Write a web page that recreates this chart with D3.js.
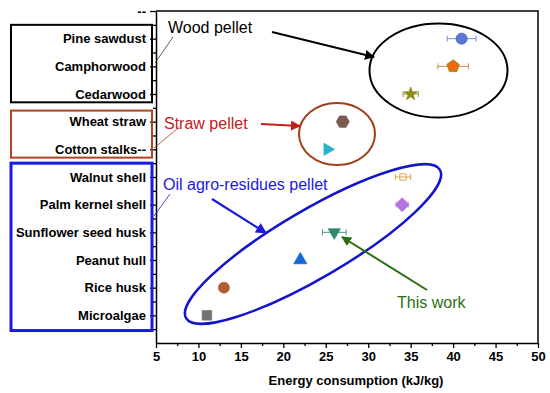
<!DOCTYPE html>
<html>
<head>
<meta charset="utf-8">
<script src="https://cdn.jsdelivr.net/npm/d3@7"></script>
<style>
  body { margin: 0; background: #fff; }
  svg { display: block; font-family: Arial, "Liberation Sans", sans-serif; }
</style>
</head>
<body>
<svg></svg>
<script>
// pellet types, top to bottom
var categories = ["Pine sawdust", "Camphorwood", "Cedarwood", "Wheat straw", "Cotton stalks--",
    "Walnut shell", "Palm kernel shell", "Sunflower seed husk", "Peanut hull", "Rice husk", "Microalgae"];
// energy consumption (kJ/kg) and error
var energy = [41, 40, 35, 27, 25.2, 34.1, 34, 26, 22, 13, 11];
var errors = [1.7, 1.8, 0.9, 0, 0, 0.9, 0.7, 1.4, 0, 0.5, 0];
var xTicks = [5, 10, 15, 20, 25, 30, 35, 40, 45, 50];

// marker styles
var markers = [
    {shape: "circle", fill: "#5b78d8", stroke: "#3a55b8", err: "#7b8fd8"},
    {shape: "pentagon", fill: "#f26a10", stroke: "#8a8a20", err: "#c0904a"},
    {shape: "star", fill: "#8c8c1c", stroke: "#8c8c1c", err: "#9c9c30"},
    {shape: "hexagon", fill: "#7a5a52", stroke: "#7a5a52", err: "#7a5a52"},
    {shape: "triright", fill: "#25b4cc", stroke: "#25b4cc", err: "#25b4cc"},
    {shape: "opensquare", fill: "none", stroke: "#e0a050", err: "#e0a050"},
    {shape: "diamond", fill: "#b674e0", stroke: "#b674e0", err: "#c090e0"},
    {shape: "tridown", fill: "#2e8a68", stroke: "#2e8a68", err: "#4a9a80"},
    {shape: "triup", fill: "#1468d8", stroke: "#1468d8", err: "#1468d8"},
    {shape: "circle", fill: "#b06030", stroke: "#b06030", err: "#c07050"},
    {shape: "square", fill: "#737373", stroke: "#737373", err: "#737373"}
];

var width = 550, height = 393;
var pL = 156, pR = 538, pT = 11, pB = 343;

var svg = d3.select("svg").attr("width", width).attr("height", height);

var x = d3.scaleLinear().domain([5, 50]).range([pL, pR]);
var y = d3.scaleLinear().domain([0, 12]).range([pT, pB]);

// frame (top and right)
svg.append("path")
    .attr("d", "M" + pL + "," + pT + "H" + pR + "V" + pB)
    .attr("fill", "none").attr("stroke", "#000").attr("stroke-width", 1.5);

// x axis
var xAxis = svg.append("g")
    .attr("transform", "translate(0," + pB + ")")
    .call(d3.axisBottom(x).tickValues(xTicks).tickSize(5).tickSizeOuter(0).tickPadding(4));
svg.append("g")
    .attr("transform", "translate(0," + pB + ")")
    .call(d3.axisBottom(x).tickValues(d3.range(7.5, 50, 5)).tickSize(3).tickFormat(""))
    .select(".domain").remove();
xAxis.selectAll("text").style("font-size", "13px").style("font-weight", "bold").attr("fill", "#000");

// y axis
var yAxis = svg.append("g")
    .attr("transform", "translate(" + pL + ",0)")
    .call(d3.axisLeft(y).tickValues(d3.range(0, 12))
        .tickFormat(d => d === 0 ? "--" : categories[d - 1])
        .tickSize(6).tickSizeOuter(0).tickPadding(4));
svg.append("g")
    .attr("transform", "translate(" + pL + ",0)")
    .call(d3.axisLeft(y).tickValues(d3.range(0.5, 12, 1)).tickSize(3).tickFormat(""))
    .select(".domain").remove();
yAxis.selectAll("text").style("font-size", "13px").style("font-weight", "bold").attr("fill", "#000");
svg.selectAll(".domain").attr("stroke-width", 1.5);
svg.selectAll(".tick line").attr("stroke-width", 1.3);

// x axis title
svg.append("text")
    .attr("x", 356).attr("y", 385)
    .style("text-anchor", "middle").style("font-size", "13px").style("font-weight", "bold")
    .text("Energy consumption (kJ/kg)");

// group boxes around labels
var boxes = [
    {from: 0.5, to: 3.3, color: "#000", w: 2},
    {from: 3.6, to: 5.3, color: "#b0441c", w: 2},
    {from: 5.5, to: 11.55, color: "#1a1ae0", w: 3}
];
boxes.forEach(b => {
    svg.append("rect")
        .attr("x", 11).attr("y", y(b.from))
        .attr("width", 141).attr("height", y(b.to) - y(b.from))
        .attr("fill", "none").attr("stroke", b.color).attr("stroke-width", b.w);
});

// arrow markers
var defs = svg.append("defs");
function arrowHead(id, color) {
    defs.append("marker")
        .attr("id", id).attr("viewBox", "0 0 10 10")
        .attr("refX", 9).attr("refY", 5)
        .attr("markerWidth", 5).attr("markerHeight", 5)
        .attr("markerUnits", "strokeWidth").attr("orient", "auto")
        .append("path").attr("d", "M0,0L10,5L0,10z").attr("fill", color);
}
arrowHead("ab", "#000");
arrowHead("ar", "#c02018");
arrowHead("au", "#1a1ae0");
arrowHead("ag", "#2a6e10");

// ellipses
svg.append("ellipse").attr("cx", 438.5).attr("cy", 70.5).attr("rx", 69).attr("ry", 47)
    .attr("fill", "none").attr("stroke", "#000").attr("stroke-width", 2);
svg.append("ellipse").attr("cx", 337).attr("cy", 134).attr("rx", 38).attr("ry", 31)
    .attr("fill", "none").attr("stroke", "#a0401a").attr("stroke-width", 2);
svg.append("ellipse").attr("cx", 0).attr("cy", 0).attr("rx", 147).attr("ry", 34)
    .attr("transform", "translate(313,244) rotate(-30.3)")
    .attr("fill", "none").attr("stroke", "#1414cc").attr("stroke-width", 2.5);

// annotations
function note(txt, xx, yy, color) {
    svg.append("text").attr("x", xx).attr("y", yy)
        .style("font-size", "16px").attr("fill", color).text(txt);
}
note("Wood pellet", 168, 33, "#000");
note("Straw pellet", 164, 129, "#c42018");
note("Oil agro-residues pellet", 163, 190, "#1a1ae0");
note("This work", 397, 308, "#2a7010");

function line(x1, y1, x2, y2, color, w, m) {
    var l = svg.append("line").attr("x1", x1).attr("y1", y1).attr("x2", x2).attr("y2", y2)
        .attr("stroke", color).attr("stroke-width", w);
    if (m) l.attr("marker-end", "url(#" + m + ")");
}
line(173, 37, 155, 63, "#333", 0.8);
line(177, 129, 154, 148, "#b0441c", 0.8);
line(170, 194, 154, 216, "#1a1ae0", 0.8);
line(272, 32, 374, 57, "#000", 2, "ab");
line(261, 124, 300, 126, "#c02018", 2, "ar");
line(212, 199, 266, 233, "#1a1ae0", 2.2, "au");
line(427, 290, 342, 237, "#2a6e10", 2, "ag");

// symbols
function polygon(n, r, rot) {
    var p = [];
    for (var i = 0; i < n; i++) {
        var a = rot + i * 2 * Math.PI / n;
        p.push([r * Math.cos(a), r * Math.sin(a)]);
    }
    return "M" + p.join("L") + "Z";
}
function shapePath(s) {
    switch (s) {
        case "circle": return d3.symbol(d3.symbolCircle, 95)();
        case "pentagon": return polygon(5, 6.5, -Math.PI / 2);
        case "hexagon": return polygon(6, 6.5, 0);
        case "star": return d3.symbol(d3.symbolStar, 55)();
        case "triright": return polygon(3, 7, 0);
        case "tridown": return polygon(3, 7, Math.PI / 2);
        case "triup": return polygon(3, 7.5, -Math.PI / 2);
        case "diamond": return polygon(4, 7, 0);
        case "square": return d3.symbol(d3.symbolSquare, 90)();
        case "opensquare": return d3.symbol(d3.symbolSquare, 40)();
    }
}

var pts = svg.append("g").selectAll("g")
    .data(energy)
    .join("g")
    .attr("transform", (d, i) => "translate(" + x(d) + "," + y(i + 1) + ")");

pts.each(function (d, i) {
    if (errors[i] <= 0) return;
    var e = x(d + errors[i]) - x(d);
    d3.select(this).append("path")
        .attr("d", "M" + (-e) + ",0H" + e + "M" + (-e) + ",-3V3M" + e + ",-3V3")
        .attr("stroke", markers[i].err).attr("stroke-width", 1).attr("fill", "none");
});

pts.append("path")
    .attr("d", (d, i) => shapePath(markers[i].shape))
    .attr("fill", (d, i) => markers[i].fill)
    .attr("stroke", (d, i) => markers[i].stroke)
    .attr("stroke-width", (d, i) => markers[i].shape === "opensquare" ? 1 : 0.8);
</script>
</body>
</html>
